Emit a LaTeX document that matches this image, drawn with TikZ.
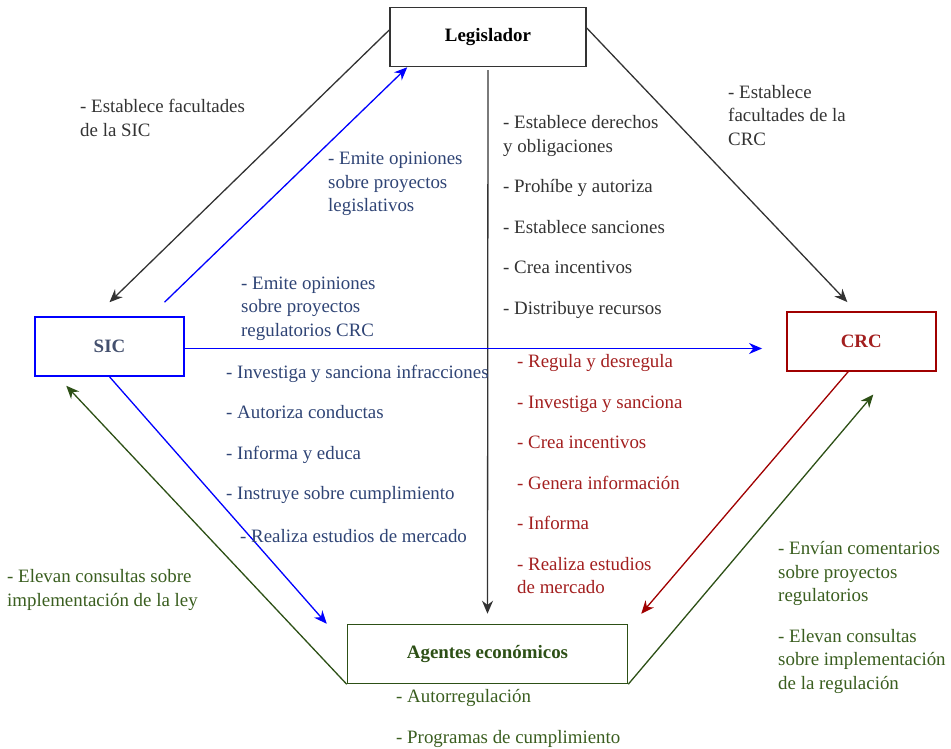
\documentclass[tikz,border=0pt]{standalone}
\usepackage{fontspec}
\setmainfont{Liberation Serif}
\usetikzlibrary{arrows.meta}
\definecolor{txtgray}{HTML}{333333}
\definecolor{sicgray}{HTML}{44506E}
\definecolor{sicblue}{HTML}{2F4475}
\definecolor{crcred}{HTML}{A31F1F}
\definecolor{agegreen}{HTML}{3A5E1F}
\definecolor{linered}{HTML}{A00000}
\definecolor{linegreen}{HTML}{2D5016}
\newcommand\fs{\fontsize{18.9}{23.5}\selectfont}
\tikzset{
    actor/.style={draw, line width=1.5pt, minimum height=59pt, inner sep=0pt, font=\fs\bfseries}, % cajas de actores
    lbl/.style={anchor=north west, inner sep=0pt, align=left, font=\fs, execute at begin node=\strut},
    conn/.style={line width=1.3pt, -{Stealth[length=13pt,width=11pt]}},
}

\begin{document}
\begin{tikzpicture}[x=1pt, y=-1pt]
    \useasboundingbox (0,0) rectangle (951,749);
    % actores
    \node[actor, draw=txtgray, text=black, minimum width=196pt] (leg) at (488,37) {Legislador};
    \node[actor, draw=blue, text=sicgray, minimum width=149pt] (sic) at (109.5,346.5) {SIC};
    \node[actor, draw=linered, text=crcred, minimum width=149pt] (crc) at (861.3,341.3) {CRC};
    \node[actor, draw=linegreen, text=linegreen, minimum width=280pt] (age) at (487.5,654) {Agentes económicos};
    \coordinate (sicout) at ([yshift=-2pt]sic.east);
    \coordinate (crcin) at ([xshift=-24pt]crc.west);
    % conectores
    \draw[conn, txtgray] ([yshift=7pt]leg.west) -- ([yshift=14pt]sic.north);
    \draw[conn, blue] ([xshift=55pt,yshift=14pt]sic.north) -- ([xshift=18pt]leg.south west);
    \draw[conn, txtgray] ([yshift=9pt]leg.east) -- ([xshift=-14pt,yshift=9pt]crc.north);
    \draw[conn, txtgray] ([yshift=-3pt]leg.south) -- ([yshift=10pt]age.north);
    \draw[conn, blue] (sicout) -- (sicout -| crcin);
    \draw[conn, blue] (sic.south) -- ([xshift=-20pt]age.north west);
    \draw[conn, linegreen] (age.south west) -- ([xshift=32pt,yshift=-9pt]sic.south west);
    \draw[conn, linered] ([xshift=-13pt]crc.south) -- ([xshift=13pt,yshift=10pt]age.north east);
    \draw[conn, linegreen] (age.south east) -- ([xshift=12pt,yshift=-23pt]crc.south);
    % etiquetas
    \node[lbl, txtgray] (lsic) at (80,99) {- Establece facultades\\de la SIC};
    \node[lbl, sicblue] (lopl) at (328,152) {- Emite opiniones\\sobre proyectos\\legislativos};
    \node[lbl, txtgray] (lcrc) at (728,85) {- Establece\\facultades de la\\CRC};
    \node[lbl, txtgray] (lleg) at (503,115.5) {- Establece derechos\\y obligaciones\\[17pt]- Prohíbe y autoriza\\[17pt]- Establece sanciones\\[17pt]- Crea incentivos\\[17pt]- Distribuye recursos};
    \node[lbl, sicblue] (lopr) at (241,276.5) {- Emite opiniones\\sobre proyectos\\regulatorios CRC};
    \node[lbl, sicblue] (lsicf) at (226,364.5) {- Investiga y sanciona infracciones\\[17pt]- Autoriza conductas\\[17pt]- Informa y educa\\[17pt]- Instruye sobre cumplimiento};
    \node[lbl, sicblue] (lest) at (240,526) {- Realiza estudios de mercado};
    \node[lbl, crcred] (lcrcf) at (517,354.5) {- Regula y desregula\\[17pt]- Investiga y sanciona\\[17pt]- Crea incentivos\\[17pt]- Genera información\\[17pt]- Informa\\[17pt]- Realiza estudios\\de mercado};
    \node[lbl, agegreen] (lley) at (7,569.5) {- Elevan consultas sobre\\implementación de la ley};
    \node[lbl, agegreen] (lcom) at (778,541.5) {- Envían comentarios\\sobre proyectos\\regulatorios\\[17pt]- Elevan consultas\\sobre implementación\\de la regulación};
    \node[lbl, agegreen] (lage) at (396,689.5) {- Autorregulación\\[17pt]- Programas de cumplimiento};
\end{tikzpicture}
\end{document}
